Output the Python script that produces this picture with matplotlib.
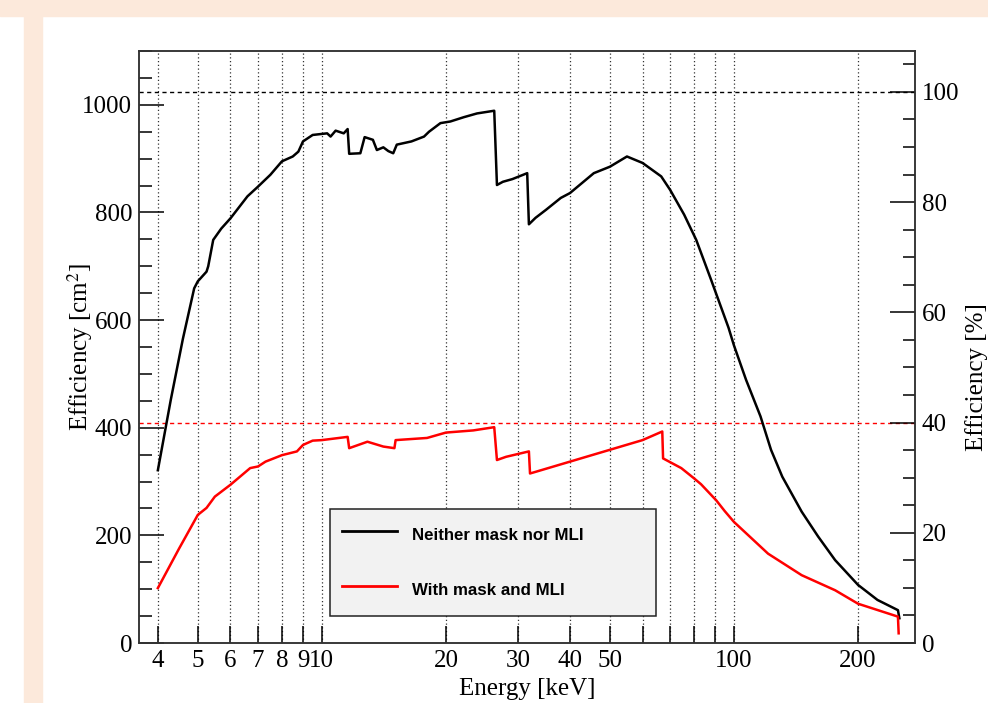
import numpy as np
import matplotlib.pyplot as plt
from matplotlib.patches import Rectangle
from matplotlib.ticker import FixedLocator, FixedFormatter, MultipleLocator

# Energies [keV] and efficiencies [cm^2]
energy_bare = [4.0, 4.3, 4.6, 4.9, 5.0, 5.25, 5.3, 5.45, 5.7, 6.0, 6.6, 7.0, 7.5, 8.0,
               8.5, 8.77, 9.0, 9.5, 10.3, 10.5, 10.8, 11.3, 11.55, 11.65, 12.4, 12.7,
               13.3, 13.6, 14.1, 14.5, 14.9, 15.2, 16.5, 17.7, 18.2, 19.4, 20.5, 22.1,
               23.8, 26.2, 26.6, 27.5, 29.0, 31.5, 31.8, 33.0, 35.0, 38.0, 40.0, 45.7,
               50.0, 55.0, 60.0, 66.6, 70.0, 75.7, 81.0, 88.0, 97.0, 100, 107, 116,
               123, 131, 146, 160, 176, 200, 223, 250, 252]
eff_bare = [321, 452, 565, 659, 672, 690, 700, 749, 770, 789, 830, 848, 870, 895,
            904, 913, 932, 944, 947, 941, 952, 947, 955, 909, 910, 940,
            935, 916, 921, 914, 910, 926, 932, 941, 950, 966, 969, 977,
            984, 989, 851, 857, 862, 873, 778, 790, 805, 827, 836, 873,
            885, 904, 892, 867, 842, 796, 749, 675, 586, 553, 489, 421,
            359, 309, 244, 198, 154, 108, 80, 61, 46]

energy_mask = [4.0, 4.5, 5.0, 5.25, 5.5, 6.0, 6.7, 7.0, 7.3, 8.0, 8.7, 9.0, 9.5, 10.0,
               11.55, 11.65, 12.9, 14.1, 15.0, 15.1, 18.0, 20.0, 23.3, 26.2, 26.6,
               28.0, 31.8, 32.0, 33.0, 40.0, 50.0, 60.0, 67.0, 67.3, 74.5, 80.0,
               83.2, 90.6, 95.0, 100, 121, 146, 176, 200, 250, 251]
eff_mask = [102, 175, 238, 251, 272, 294, 325, 328, 337, 349, 356, 368, 376, 377,
            383, 362, 374, 365, 362, 377, 381, 391, 395, 401, 340,
            346, 356, 315, 318, 337, 359, 377, 393, 343, 325, 306,
            295, 265, 245, 225, 166, 126, 98, 73, 49, 18]

full_area = 1024.0          # cm^2 corresponding to 100 %
ref_levels = [100, 40]      # % lines
ref_colors = ["black", "red"]

grid_ticks = [4, 5, 6, 7, 8, 9, 10, 20, 30, 40, 50, 60, 70, 80, 90, 100, 200]
grid_labels = ["4", "5", "6", "7", "8", "9", "10", "20", "30", "40", "50",
               "", "", "", "", "100", "200"]

plt.rcParams["font.family"] = ["Liberation Serif", "DejaVu Serif"]
plt.rcParams["mathtext.fontset"] = "stix"
fs = 18

fig = plt.figure(figsize=(9.88, 7.03), dpi=100)
fig.patches.append(Rectangle((0, 1 - 16 / 703), 1, 16 / 703, transform=fig.transFigure,
                             color="#fce9db", zorder=0))
fig.patches.append(Rectangle((24 / 988, 0), 18 / 988, 1 - 16 / 703, transform=fig.transFigure,
                             color="#fce9db", zorder=0))

ax = fig.add_axes([139 / 988, 60 / 703, 776 / 988, 592 / 703])
ax.set_xscale("log")
ax.set_xlim(3.6, 275)
ax.set_ylim(0, 1100)

ax.xaxis.set_major_locator(FixedLocator(grid_ticks))
ax.xaxis.set_major_formatter(FixedFormatter(grid_labels))
ax.xaxis.set_minor_locator(FixedLocator([]))
ax.yaxis.set_major_locator(MultipleLocator(200))
ax.yaxis.set_minor_locator(MultipleLocator(50))
ax.grid(True, axis="x", which="major", linestyle=(0, (1, 2)), color="#333333", lw=0.9)

ax.tick_params(axis="x", which="major", direction="in", length=12, width=1.1,
               labelsize=fs, pad=5, top=False)
ax.tick_params(axis="y", which="major", direction="in", length=18, width=1.1,
               labelsize=fs, pad=5, right=False)
ax.tick_params(axis="y", which="minor", direction="in", length=9, width=1.1, right=False)

for lvl, col in zip(ref_levels, ref_colors):
    ax.axhline(lvl / 100 * full_area, color=col, lw=1.0, linestyle=(0, (3, 2.5)), zorder=2)

ax.plot(energy_bare, eff_bare, color="black", lw=1.8, label="Neither mask nor MLI", zorder=4)
ax.plot(energy_mask, eff_mask, color="red", lw=1.8, label="With mask and MLI", zorder=4)

for s in ax.spines.values():
    s.set_linewidth(1.1)
    s.set_color("#333333")

ax.set_xlabel("Energy [keV]", fontsize=fs, labelpad=4)
ax.set_ylabel(r"Efficiency [cm$^2$]", fontsize=fs)
ax.yaxis.set_label_coords(-0.057, 0.5)

ax2 = ax.twinx()
ax2.set_ylim(0, 1100 / full_area * 100)
ax2.yaxis.set_major_locator(MultipleLocator(20))
ax2.yaxis.set_minor_locator(MultipleLocator(5))
ax2.tick_params(axis="y", which="major", direction="in", length=18, width=1.1,
                labelsize=fs, pad=5)
ax2.tick_params(axis="y", which="minor", direction="in", length=9, width=1.1)
ax2.set_ylabel("Efficiency [%]", fontsize=fs, rotation=90)
ax2.yaxis.set_label_coords(1.064, 0.45)
for s in ax2.spines.values():
    s.set_linewidth(1.1)
    s.set_color("#333333")

leg = ax.legend(loc="upper left", bbox_to_anchor=(0.246, 0.039, 0.42, 0.1874), mode="expand",
                borderaxespad=0, fancybox=False, framealpha=1, facecolor="#f2f2f2",
                edgecolor="#222222", prop={"family": "Liberation Sans", "weight": "bold",
                                           "size": 12.2},
                handlelength=3.25, handleheight=2.2, handletextpad=0.9,
                labelspacing=1.58, borderpad=0.7)
leg.get_frame().set_linewidth(1.1)
for h in leg.get_lines():
    h.set_linewidth(2.0)
leg.set_zorder(5)

fig.savefig("out.png", dpi=100)
